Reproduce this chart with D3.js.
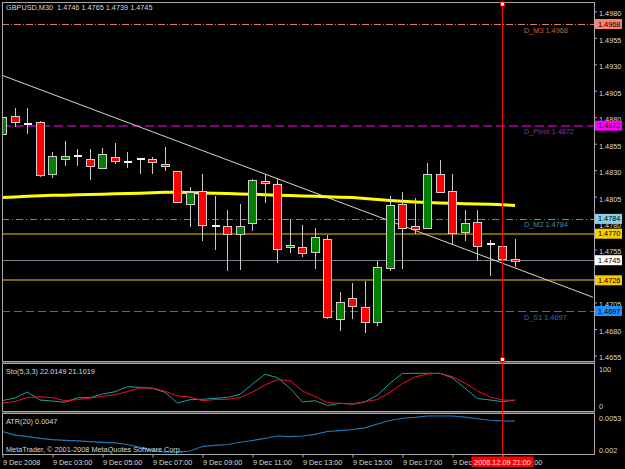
<!DOCTYPE html>
<html><head><meta charset="utf-8">
<script src="https://cdn.jsdelivr.net/npm/d3@7"></script>
<style>html,body{margin:0;padding:0;background:#000;}svg{display:block;}</style>
</head><body>
<svg id="c" width="625" height="469"></svg>
<script>
// ---------- DATA ----------
const times = ["01:00","01:30","02:00","02:30","03:00","03:30","04:00","04:30","05:00","05:30",
  "06:00","06:30","07:00","07:30","08:00","08:30","09:00","09:30","10:00","10:30",
  "11:00","11:30","12:00","12:30","13:00","13:30","14:00","14:30","15:00","15:30",
  "16:00","16:30","17:00","17:30","18:00","18:30","19:00","19:30","20:00","20:30",
  "21:00","21:30"];
const open  = [1.4864,1.4881,1.4874,1.4875,1.4826,1.4840,1.4843,1.4840,1.4832,1.4842,
  1.4838,1.4841,1.4840,1.4835,1.4829,1.4798,1.4810,1.4777,1.4777,1.4769,
  1.4780,1.4819,1.4816,1.4757,1.4757,1.4752,1.4765,1.4689,1.4709,1.4700,
  1.4686,1.4737,1.4798,1.4777,1.4775,1.4826,1.4810,1.4771,1.4781,1.4760,
  1.4758,1.4746];
const high  = [1.4882,1.4889,1.4889,1.4876,1.4847,1.4858,1.4850,1.4850,1.4851,1.4856,
  1.4847,1.4841,1.4842,1.4852,1.4829,1.4814,1.4826,1.4806,1.4792,1.4798,
  1.4822,1.4826,1.4822,1.4784,1.4778,1.4775,1.4769,1.4715,1.4723,1.4725,
  1.4744,1.4806,1.4809,1.4804,1.4837,1.4840,1.4826,1.4792,1.4792,1.4764,
  1.4763,1.4765];
const low   = [1.4859,1.4871,1.4864,1.4824,1.4823,1.4834,1.4834,1.4821,1.4832,1.4836,
  1.4832,1.4826,1.4826,1.4829,1.4799,1.4776,1.4763,1.4755,1.4735,1.4736,
  1.4773,1.4799,1.4742,1.4752,1.4748,1.4737,1.4689,1.4678,1.4689,1.4676,
  1.4683,1.4735,1.4737,1.4770,1.4774,1.4809,1.4760,1.4763,1.4744,1.4730,
  1.4735,1.4739];
const close = [1.4880,1.4875,1.4874,1.4825,1.4843,1.4843,1.4843,1.4833,1.4845,1.4838,
  1.4838,1.4841,1.4837,1.4833,1.4799,1.4809,1.4778,1.4777,1.4769,1.4777,
  1.4820,1.4817,1.4755,1.4759,1.4751,1.4766,1.4691,1.4705,1.4701,1.4686,
  1.4738,1.4797,1.4775,1.4774,1.4826,1.4809,1.4770,1.4780,1.4758,1.4760,
  1.4746,1.4745];
const maValues = [1.48042,1.48047,1.48054,1.48059,1.48063,1.48064,1.48068,1.48070,1.48073,1.48077,
  1.48080,1.48083,1.48086,1.48091,1.48091,1.48089,1.48085,1.48082,1.48079,1.48075,
  1.48072,1.48068,1.48064,1.48060,1.48056,1.48053,1.48049,1.48045,1.48041,1.48033,
  1.48023,1.48014,1.48006,1.48000,1.47995,1.47990,1.47987,1.47984,1.47981,1.47978,
  1.47973,1.47967];
const stochMain = [20.7,28,45.5,22,19.2,15.4,28.9,28.9,39.6,46.3,
  60.9,59.2,56.3,44.6,13.4,23,24.2,27.1,29.4,38.8,
  68.8,97,87.2,56.3,16.3,20.1,6.1,12.5,10.5,16.3,
  36.7,70.8,99.4,100,100,100,86.3,56.3,26.5,22.2,
  17.2,22.0149];
const stochSignal = [13.4,17.8,29.4,31.8,28.9,20.1,23.3,28,32.9,37.3,
  46.9,57.1,57.1,47.8,33.8,30.9,19.8,23.6,24.2,28.9,
  45.5,65.9,81.9,78.4,48.4,32.4,14.3,12.5,9.6,17.2,
  23.6,44.6,70.2,89.2,97.9,100,90,71.7,48.4,30.9,
  22.2,21.1019];
const atrValues = [0.00382,0.00352,0.00338,0.00324,0.00314,0.00307,0.00302,0.00296,0.00290,0.00285,
  0.00272,0.00247,0.00221,0.00209,0.00206,0.00217,0.00255,0.00264,0.00272,0.00291,
  0.00306,0.00323,0.00344,0.00338,0.00344,0.00357,0.00382,0.00390,0.00399,0.00412,
  0.00445,0.00475,0.00494,0.00502,0.00513,0.00513,0.00513,0.00503,0.00490,0.00477,
  0.00471,0.0047];
const trendBars   = [0, 47.24];
const trendPrices = [1.49194, 1.47100];
const levelValues = [1.4968, 1.4872, 1.4784, 1.4770, 1.4745, 1.4726, 1.4697];
const levelNames  = ["D_M3", "D_Pivot", "D_M2", "", "", "", "D_S1"];
const priceTicks = [1.4980,1.4955,1.4930,1.4905,1.4880,1.4855,1.4830,1.4805,1.4780,1.4755,1.4730,1.4705,1.4680,1.4655];
const timeTickIdx = [0,4,8,12,16,20,24,28,32,36,40];
const timeLabels = ["9 Dec 2008","9 Dec 03:00","9 Dec 05:00","9 Dec 07:00","9 Dec 09:00","9 Dec 11:00",
  "9 Dec 13:00","9 Dec 15:00","9 Dec 17:00","9 Dec 19:00","9 Dec 21:00"];
const stochTickLabels = ["100","0"];
const atrTickLabels = ["0.0053","0.002"];
const crossIdx = 40;
const crossLabel = "2008.12.09 21:00";
const titleText = "GBPUSD,M30  1.4746 1.4765 1.4739 1.4745";
const stochTitle = "Sto(5,3,3) 22.0149 21.1019";
const atrTitle = "ATR(20) 0.0047";
const copyright = "MetaTrader, \u00A9 2001-2008 MetaQuotes Software Corp.";

// ---------- STYLES ----------
const levelStyles = [
  {stroke:"#e0785a", w:1, dash:"7,2,1,2", text:"#c0603c", box:"#fa8072"},
  {stroke:"#800080", w:2, dash:"9,4",     text:"#a020a0", box:"#ff00ff"},
  {stroke:"#4f8fa8", w:1, dash:"7,3,1,3", text:"#4a8aa8", box:"#87ceeb"},
  {stroke:"#7a6400", w:2, dash:null,      text:"#fff",    box:"#f5d000"},
  {stroke:"#708090", w:1, dash:null,      text:"#fff",    box:"#ffffff"},
  {stroke:"#7a6400", w:2, dash:null,      text:"#fff",    box:"#f5c800"},
  {stroke:"#2a78b8", w:1, dash:"8,4",     text:"#2a70b0", box:"#1e90ff"}
];
const FONT = "'Liberation Sans', Arial, sans-serif";
const FS = 7.3;
const TXT = "#d8d8d8";
const FRAME = "#a8a8a8";

// ---------- LAYOUT ----------
const L = 2, R = 594;
const mainTop = 2, mainBot = 361, stoTop = 363, stoBot = 411, atrTop = 413, atrBot = 454.5;

const svg = d3.select("#c").attr("font-family", FONT).attr("font-size", FS);
svg.append("rect").attr("width", 625).attr("height", 469).attr("fill", "#000");

const x = d3.scaleLinear().domain([0, 41]).range([2.5, 515]);
const y = d3.scaleLinear().domain([1.4655, 1.4980]).range([355.5, 11.3]);
const ys = d3.scaleLinear().domain([0, 100]).range([407.6, 373.3]);
const ya = d3.scaleLinear().domain([0.002, 0.0053]).range([453, 414]);

const defs = svg.append("defs");
defs.append("clipPath").attr("id", "clipMain").append("rect")
  .attr("x", L).attr("y", mainTop).attr("width", R - L).attr("height", mainBot - mainTop);
defs.append("clipPath").attr("id", "clipSto").append("rect")
  .attr("x", L).attr("y", stoTop).attr("width", R - L).attr("height", stoBot - stoTop);
defs.append("clipPath").attr("id", "clipAtr").append("rect")
  .attr("x", L).attr("y", atrTop).attr("width", R - L).attr("height", atrBot - atrTop);

// ---------- MAIN PANE ----------
const main = svg.append("g").attr("clip-path", "url(#clipMain)");

// level lines
levelValues.forEach((v, i) => {
  const st = levelStyles[i];
  const yy = Math.round(y(v)) + (st.w === 1 ? 0.5 : 0);
  main.append("line").attr("x1", L).attr("x2", R).attr("y1", yy).attr("y2", yy)
    .attr("stroke", st.stroke).attr("stroke-width", st.w)
    .attr("stroke-dasharray", st.dash);
  if (levelNames[i]) {
    main.append("text").attr("x", 524).attr("y", y(v) + 6).attr("dy", "0.35em")
      .attr("fill", st.text).text(levelNames[i] + " " + v.toFixed(4));
  }
});

// trend line
main.append("line")
  .attr("x1", x(trendBars[0])).attr("y1", y(trendPrices[0]))
  .attr("x2", x(trendBars[1])).attr("y2", y(trendPrices[1]))
  .attr("stroke", "#d8d8c4").attr("stroke-width", 1);

// moving average
main.append("path").datum(maValues)
  .attr("d", d3.line().x((d, i) => x(i)).y(d => y(d)))
  .attr("fill", "none").attr("stroke", "#ffff00").attr("stroke-width", 3);

// candles
const bars = times.map((t, i) => ({i, o: open[i], h: high[i], l: low[i], c: close[i]}));
const cg = main.append("g").attr("shape-rendering", "crispEdges");
cg.selectAll("line.wick").data(bars).join("line").attr("class", "wick")
  .attr("x1", d => Math.floor(x(d.i)) + 0.5).attr("x2", d => Math.floor(x(d.i)) + 0.5)
  .attr("y1", d => y(d.h)).attr("y2", d => y(d.l))
  .attr("stroke", "#c8c8c8").attr("stroke-width", 1);
const bodies = bars.filter(d => d.o !== d.c);
cg.selectAll("rect.body").data(bodies).join("rect").attr("class", "body")
  .attr("x", d => Math.floor(x(d.i)) - 3.5)
  .attr("width", 8)
  .attr("y", d => y(Math.max(d.o, d.c)))
  .attr("height", d => Math.max(2, y(Math.min(d.o, d.c)) - y(Math.max(d.o, d.c))))
  .attr("fill", d => d.c > d.o ? "#008000" : "#ff0000")
  .attr("stroke", "#d0d0d0").attr("stroke-width", 1);
cg.selectAll("line.doji").data(bars.filter(d => d.o === d.c)).join("line").attr("class", "doji")
  .attr("x1", d => Math.floor(x(d.i)) - 3.5).attr("x2", d => Math.floor(x(d.i)) + 4.5)
  .attr("y1", d => Math.round(y(d.o))).attr("y2", d => Math.round(y(d.o)))
  .attr("stroke", "#f4f4f4").attr("stroke-width", 2);

// ---------- STOCH PANE ----------
const sto = svg.append("g").attr("clip-path", "url(#clipSto)");
sto.append("path").datum(stochMain)
  .attr("d", d3.line().x((d, i) => x(i)).y(d => ys(d)))
  .attr("fill", "none").attr("stroke", "#1f9f9f").attr("stroke-width", 1);
sto.append("path").datum(stochSignal)
  .attr("d", d3.line().x((d, i) => x(i)).y(d => ys(d)))
  .attr("fill", "none").attr("stroke", "#f01028").attr("stroke-width", 1);

// ---------- ATR PANE ----------
const atr = svg.append("g").attr("clip-path", "url(#clipAtr)");
atr.append("path").datum(atrValues)
  .attr("d", d3.line().x((d, i) => x(i)).y(d => ya(d)))
  .attr("fill", "none").attr("stroke", "#1e78b8").attr("stroke-width", 1.2);

// ---------- TEXTS IN PANES ----------
svg.append("text").attr("x", 6).attr("y", 7.5).attr("dy", "0.35em").attr("fill", TXT).attr("xml:space", "preserve").style("white-space", "pre").text(titleText);
svg.append("text").attr("x", 6).attr("y", 371).attr("dy", "0.35em").attr("fill", TXT).text(stochTitle);
svg.append("text").attr("x", 6).attr("y", 421).attr("dy", "0.35em").attr("fill", TXT).text(atrTitle);
svg.append("text").attr("x", 6).attr("y", 449).attr("dy", "0.35em").attr("fill", TXT).text(copyright);

// ---------- FRAMES ----------
const fr = svg.append("g").attr("stroke", FRAME).attr("stroke-width", 1).attr("shape-rendering", "crispEdges");
fr.append("line").attr("x1", L + 0.5).attr("x2", L + 0.5).attr("y1", mainTop).attr("y2", atrBot);
fr.append("line").attr("x1", R + 0.5).attr("x2", R + 0.5).attr("y1", mainTop).attr("y2", atrBot);
fr.append("line").attr("x1", L).attr("x2", R + 1).attr("y1", mainTop + 0.5).attr("y2", mainTop + 0.5);
[mainBot, stoTop, stoBot, atrTop].forEach(v => {
  fr.append("line").attr("x1", L).attr("x2", R + 1).attr("y1", v + 0.5).attr("y2", v + 0.5);
});
[mainBot + 1, stoBot + 1].forEach(v => {
  fr.append("line").attr("x1", L).attr("x2", R + 1).attr("y1", v + 0.5).attr("y2", v + 0.5).attr("stroke", "#5a5a5a");
});
fr.append("line").attr("x1", L).attr("x2", R + 1).attr("y1", atrBot).attr("y2", atrBot);

// ---------- AXES ----------
const yAxis = svg.append("g").attr("transform", `translate(${R},0)`)
  .call(d3.axisRight(y).tickValues(priceTicks).tickSize(3).tickPadding(2).tickFormat(d3.format(".4f")));
yAxis.select(".domain").remove();
yAxis.attr("font-size", FS).attr("font-family", FONT);
yAxis.selectAll("line").attr("stroke", FRAME);
yAxis.selectAll("text").attr("fill", TXT).attr("dy", "0.6em");

// stoch / atr scale labels (pinned to pane top and bottom)
svg.append("text").attr("x", 599).attr("y", stoTop + 6).attr("dy", "0.35em").attr("fill", TXT).text(stochTickLabels[0]);
svg.append("text").attr("x", 599).attr("y", stoBot - 5).attr("dy", "0.35em").attr("fill", TXT).text(stochTickLabels[1]);
svg.append("text").attr("x", 599).attr("y", atrTop + 5.5).attr("dy", "0.35em").attr("fill", TXT).text(atrTickLabels[0]);
svg.append("text").attr("x", 599).attr("y", atrBot - 4.5).attr("dy", "0.35em").attr("fill", TXT).text(atrTickLabels[1]);

const xAxis = svg.append("g").attr("transform", `translate(0,${atrBot})`)
  .call(d3.axisBottom(x).tickValues(timeTickIdx).tickSize(3).tickFormat((d, i) => timeLabels[i]));
xAxis.select(".domain").remove();
xAxis.attr("font-size", FS).attr("font-family", FONT);
xAxis.selectAll("line").attr("stroke", FRAME);
xAxis.selectAll("text").attr("fill", TXT).attr("text-anchor", "start").attr("x", 0).attr("y", 7.5).attr("dy", "0.35em");

// price boxes on right axis
levelValues.forEach((v, i) => {
  const st = levelStyles[i];
  const yy = y(v);
  svg.append("rect").attr("x", 595).attr("y", yy - 5).attr("width", 27).attr("height", 10)
    .attr("fill", st.box);
  svg.append("text").attr("x", 598).attr("y", yy).attr("dy", "0.35em").attr("fill", "#000").text(v.toFixed(4));
});

// ---------- CROSSHAIR ----------
const cx = Math.floor(x(crossIdx)) + 0.5;
svg.append("line").attr("x1", cx).attr("x2", cx).attr("y1", 4).attr("y2", atrBot)
  .attr("stroke", "#ff0000").attr("stroke-width", 1);
[4, 359.5].forEach(v => {
  svg.append("rect").attr("x", cx - 2).attr("y", v - 2).attr("width", 4).attr("height", 4)
    .attr("fill", "#ffffff").attr("stroke", "#ff0000").attr("stroke-width", 1);
});
svg.append("rect").attr("x", cx - 31).attr("y", 456.5).attr("width", 62).attr("height", 10.5).attr("fill", "#ff0000");
svg.append("text").attr("x", cx).attr("y", 462).attr("dy", "0.35em").attr("text-anchor", "middle")
  .attr("fill", "#ffe0e0").text(crossLabel);
</script>
</body></html>
